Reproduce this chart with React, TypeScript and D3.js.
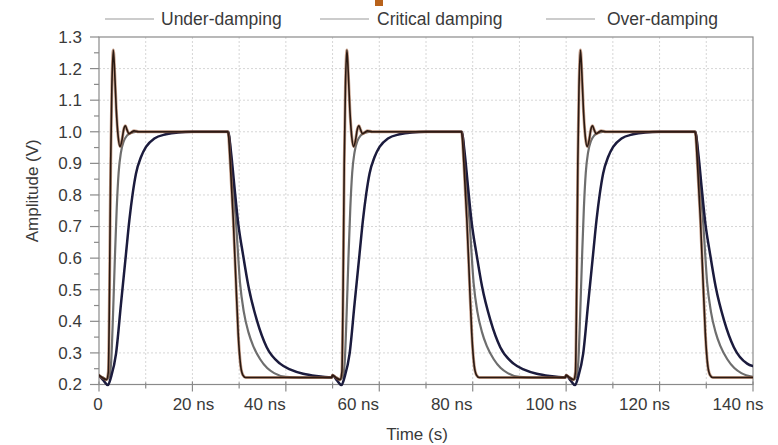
import React from "react";
import * as d3 from "d3";

type P = [number, number];

const xTicks: number[] = [0, 20, 40, 60, 80, 100, 120, 140];
const xTickLabels: string[] = ["0", "20 ns", "40 ns", "60 ns", "80 ns", "100 ns", "120 ns", "140 ns"];
const xMinor: number[] = [10, 30, 50, 70, 90, 110, 130];
const yTicks: number[] = [0.2, 0.3, 0.4, 0.5, 0.6, 0.7, 0.8, 0.9, 1.0, 1.1, 1.2, 1.3];
const yMinor: number[] = [0.25, 0.35, 0.45, 0.55, 0.65, 0.75, 0.85, 0.95, 1.05, 1.15, 1.25];
const xGrid: number[] = [10, 20, 30, 40, 50, 60, 70, 80, 90, 100, 110, 120, 130];
const yGrid: number[] = [0.3, 0.4, 0.5, 0.6, 0.7, 0.8, 0.9, 1.0, 1.1, 1.2];

const legendNames: string[] = ["Under-damping", "Critical damping", "Over-damping"];

const underDamping: P[] = [
  [0, 0.229], [0.8, 0.221], [1.6, 0.215], [2.0, 0.24], [2.25, 0.5], [2.5, 0.9], [2.75, 1.14], [3.07, 1.259], [3.35, 1.19], [3.7, 1.07], [4.1, 0.985], [4.5, 0.953], [4.9, 0.972], [5.3, 1.008], [5.65, 1.019], [6.0, 1.006], [6.4, 0.994], [6.9, 0.998], [7.5, 1.003], [8.5, 1.0], [27.6, 1.0], [28.1, 0.9], [28.75, 0.72], [29.3, 0.53], [29.8, 0.36], [30.3, 0.262], [30.8, 0.23], [31.4, 0.222], [49.8, 0.222],
  [50, 0.229], [50.8, 0.221], [51.6, 0.215], [52, 0.24], [52.25, 0.5], [52.5, 0.9], [52.75, 1.14], [53.07, 1.259], [53.35, 1.19], [53.7, 1.07], [54.1, 0.985], [54.5, 0.953], [54.9, 0.972], [55.3, 1.008], [55.65, 1.019], [56, 1.006], [56.4, 0.994], [56.9, 0.998], [57.5, 1.003], [58.5, 1.0], [77.6, 1.0], [78.1, 0.9], [78.75, 0.72], [79.3, 0.53], [79.8, 0.36], [80.3, 0.262], [80.8, 0.23], [81.4, 0.222], [99.8, 0.222],
  [100, 0.229], [100.8, 0.221], [101.6, 0.215], [102, 0.24], [102.25, 0.5], [102.5, 0.9], [102.75, 1.14], [103.07, 1.259], [103.35, 1.19], [103.7, 1.07], [104.1, 0.985], [104.5, 0.953], [104.9, 0.972], [105.3, 1.008], [105.65, 1.019], [106, 1.006], [106.4, 0.994], [106.9, 0.998], [107.5, 1.003], [108.5, 1.0], [127.6, 1.0], [128.1, 0.9], [128.75, 0.72], [129.3, 0.53], [129.8, 0.36], [130.3, 0.262], [130.8, 0.23], [131.4, 0.222], [140, 0.222],
];

const criticalDamping: P[] = [
  [0, 0.229], [0.8, 0.222], [1.6, 0.216], [2.2, 0.225], [2.6, 0.27], [3.0, 0.42], [3.4, 0.6], [3.8, 0.76], [4.2, 0.87], [4.7, 0.935], [5.3, 0.97], [6.0, 0.988], [7.0, 0.997], [8.5, 1.0], [27.8, 1.0], [28.4, 0.88], [29.3, 0.72], [30.2, 0.52], [31.0, 0.43], [32.0, 0.365], [33.0, 0.322], [34.5, 0.28], [36.0, 0.252], [37.5, 0.236], [40.0, 0.224], [43.0, 0.222], [49.8, 0.222],
  [50, 0.229], [50.8, 0.222], [51.6, 0.216], [52.2, 0.225], [52.6, 0.27], [53.0, 0.42], [53.4, 0.6], [53.8, 0.76], [54.2, 0.87], [54.7, 0.935], [55.3, 0.97], [56.0, 0.988], [57.0, 0.997], [58.5, 1.0], [77.8, 1.0], [78.4, 0.88], [79.3, 0.72], [80.2, 0.52], [81.0, 0.43], [82.0, 0.365], [83.0, 0.322], [84.5, 0.28], [86.0, 0.252], [87.5, 0.236], [90.0, 0.224], [93.0, 0.222], [99.8, 0.222],
  [100, 0.229], [100.8, 0.222], [101.6, 0.216], [102.2, 0.225], [102.6, 0.27], [103.0, 0.42], [103.4, 0.6], [103.8, 0.76], [104.2, 0.87], [104.7, 0.935], [105.3, 0.97], [106.0, 0.988], [107.0, 0.997], [108.5, 1.0], [127.8, 1.0], [128.4, 0.88], [129.3, 0.72], [130.2, 0.52], [131.0, 0.43], [132.0, 0.365], [133.0, 0.322], [134.5, 0.28], [136.0, 0.252], [137.5, 0.236], [140, 0.224],
];

const overDamping: P[] = [
  [0, 0.229], [1.0, 0.212], [1.9, 0.198], [2.6, 0.225], [3.64, 0.297], [4.71, 0.456], [5.78, 0.614], [6.5, 0.72], [7.21, 0.804], [7.92, 0.868], [8.99, 0.92], [10.06, 0.952], [11.85, 0.979], [14.34, 0.992], [17, 0.998], [20, 1.0], [27.6, 1.0], [28.3, 0.93], [28.9, 0.84], [29.8, 0.71], [30.8, 0.614], [32.0, 0.51], [33.8, 0.403], [35.9, 0.318], [38.75, 0.266], [41, 0.247], [43.7, 0.234], [46.5, 0.227], [49.8, 0.223],
  [50, 0.229], [51.0, 0.212], [51.9, 0.198], [52.6, 0.225], [53.64, 0.297], [54.71, 0.456], [55.78, 0.614], [56.5, 0.72], [57.21, 0.804], [57.92, 0.868], [58.99, 0.92], [60.06, 0.952], [61.85, 0.979], [64.34, 0.992], [67, 0.998], [70, 1.0], [77.6, 1.0], [78.3, 0.93], [78.9, 0.84], [79.8, 0.71], [80.8, 0.614], [82.0, 0.51], [83.8, 0.403], [85.9, 0.318], [88.75, 0.266], [91, 0.247], [93.7, 0.234], [96.5, 0.227], [99.8, 0.223],
  [100, 0.229], [101.0, 0.212], [101.9, 0.198], [102.6, 0.225], [103.64, 0.297], [104.71, 0.456], [105.78, 0.614], [106.5, 0.72], [107.21, 0.804], [107.92, 0.868], [108.99, 0.92], [110.06, 0.952], [111.85, 0.979], [114.34, 0.992], [117, 0.998], [120, 1.0], [127.6, 1.0], [128.3, 0.93], [128.9, 0.84], [129.8, 0.71], [130.8, 0.614], [132.0, 0.51], [133.8, 0.403], [135.9, 0.318], [138.75, 0.266], [140, 0.258],
];

const W = 778;
const H = 445;
const FONT = "'Liberation Sans', Arial, Helvetica, sans-serif";

export default function App() {
  const x = d3.scaleLinear().domain([0, 140]).range([99, 753]);
  const y = d3.scaleLinear().domain([0.2, 1.3]).range([384.5, 37]);
  const line = d3
    .line<P>()
    .x((d) => x(d[0]))
    .y((d) => y(d[1]))
    .curve(d3.curveMonotoneX);

  const [x0, x1] = x.range();
  const [yb, yt] = y.range();
  const axisColor = "#8a8a8a";
  const textColor = "#3a3a3a";
  // horizontal offsets of the tick labels as placed in the reference
  const labelShift = [-1, 1, -21, -21, -21, -15, -15, -15];

  const legendItems = [
    { name: legendNames[0], lx: 105, tx: 161 },
    { name: legendNames[1], lx: 320, tx: 377 },
    { name: legendNames[2], lx: 546, tx: 607 },
  ];

  return (
    <svg
      width={W}
      height={H}
      viewBox={`0 0 ${W} ${H}`}
      style={{ position: "absolute", left: 0, top: 0, background: "#fff" }}
    >
      <defs>
        <clipPath id="plotClip">
          <rect x={x0} y={yt} width={x1 - x0} height={yb - yt + 2} />
        </clipPath>
      </defs>
      <rect x={0} y={0} width={W} height={H} fill="#fff" />
      <rect x={375} y={0} width={8} height={6} fill="#b8621b" />

      {/* grid */}
      <g stroke="#d6d6d6" strokeWidth={1} strokeDasharray="2,2">
        {xGrid.map((t) => (
          <line key={"xg" + t} x1={x(t)} x2={x(t)} y1={yt} y2={yb} />
        ))}
        {yGrid.map((v) => (
          <line key={"yg" + v} x1={x0} x2={x1} y1={y(v)} y2={y(v)} />
        ))}
      </g>

      {/* frame */}
      <rect x={x0} y={yt} width={x1 - x0} height={yb - yt} fill="none" stroke={axisColor} strokeWidth={1.2} />

      {/* ticks */}
      <g stroke={axisColor} strokeWidth={1.2}>
        {yTicks.map((v) => (
          <line key={"yt" + v} x1={x0 - 9} x2={x0} y1={y(v)} y2={y(v)} />
        ))}
        {yMinor.map((v) => (
          <line key={"ym" + v} x1={x0 - 5} x2={x0} y1={y(v)} y2={y(v)} />
        ))}
        {xTicks.map((t) => (
          <line key={"xt" + t} x1={x(t)} x2={x(t)} y1={yb - 3} y2={yb + 7} />
        ))}
        {xMinor.map((t) => (
          <line key={"xm" + t} x1={x(t)} x2={x(t)} y1={yb - 2} y2={yb + 4} />
        ))}
      </g>

      <g fontFamily={FONT} fontSize={17} fill={textColor}>
        {yTicks.map((v) => (
          <text key={"yl" + v} x={82} y={y(v)} dy="0.35em" textAnchor="end">
            {v.toFixed(1)}
          </text>
        ))}
        {xTicks.map((t, i) => (
          <text key={"xl" + t} x={x(t) + labelShift[i]} y={410} textAnchor="middle">
            {xTickLabels[i]}
          </text>
        ))}
        <text x={417} y={440} textAnchor="middle">
          Time (s)
        </text>
        <text
          transform={`translate(37.5, ${(yt + yb) / 2 - 20}) rotate(-90)`}
          textAnchor="middle"
        >
          Amplitude (V)
        </text>
      </g>

      {/* legend */}
      <g fontFamily={FONT} fontSize={17.5} fill={textColor}>
        {legendItems.map((it) => (
          <g key={it.name}>
            <line x1={it.lx} x2={it.lx + 49} y1={19} y2={19} stroke="#9a9a9a" strokeWidth={1.2} />
            <text x={it.tx} y={25}>
              {it.name}
            </text>
          </g>
        ))}
      </g>

      {/* curves */}
      <g clipPath="url(#plotClip)" fill="none" strokeLinejoin="round" strokeLinecap="round">
        <path d={line(criticalDamping) || ""} stroke="#6e6e6e" strokeWidth={2.2} />
        <path d={line(overDamping) || ""} stroke="#1b1b3d" strokeWidth={2.5} />
        <path d={line(underDamping) || ""} stroke="#a0603e" strokeWidth={3} opacity={0.6} />
        <path d={line(underDamping) || ""} stroke="#2a1912" strokeWidth={1.6} />
      </g>
    </svg>
  );
}
